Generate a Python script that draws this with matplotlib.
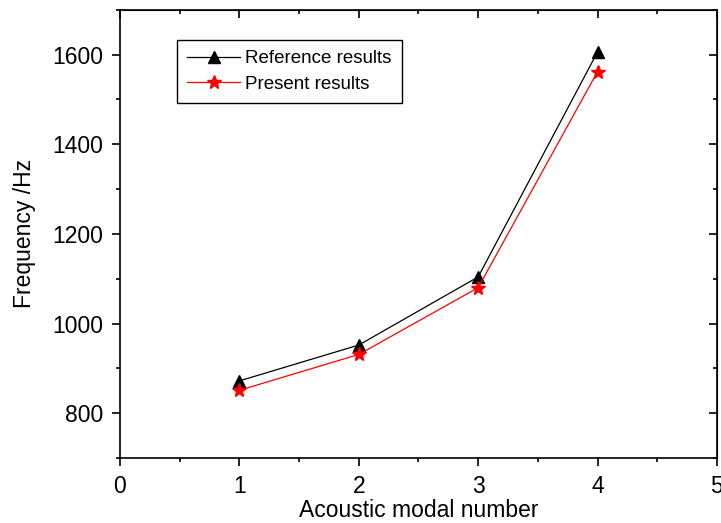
import matplotlib
matplotlib.use('Agg')
import matplotlib.pyplot as plt
from matplotlib.ticker import MultipleLocator

plt.rcParams['font.family'] = ['Liberation Sans', 'DejaVu Sans']

modes = [1, 2, 3, 4]
reference = [872, 952, 1104, 1606]
present = [851, 931, 1080, 1562]

fig = plt.figure(figsize=(7.21, 5.23), dpi=100)
ax = fig.add_axes([0.1664, 0.1243, 0.828, 0.857])

ax.plot(modes, reference, 'k-^', lw=0.9, ms=9, label='Reference results')
ax.plot(modes, present, 'r-*', lw=0.9, ms=10, label='Present results')

ax.set_xlim(0, 5)
ax.set_ylim(700, 1700)
ax.xaxis.set_major_locator(MultipleLocator(1))
ax.xaxis.set_minor_locator(MultipleLocator(0.5))
ax.yaxis.set_major_locator(MultipleLocator(200))
ax.yaxis.set_minor_locator(MultipleLocator(100))
ax.tick_params(which='both', direction='out', labelsize=16.5, width=1.2)
ax.tick_params(which='major', length=6, pad=6)
ax.tick_params(which='minor', length=3)
for s in ax.spines.values():
    s.set_linewidth(1.2)

# top/right ticks inward, unlabeled
axt = ax.secondary_xaxis('top')
axt.xaxis.set_major_locator(MultipleLocator(1))
axt.xaxis.set_minor_locator(MultipleLocator(0.5))
axt.tick_params(which='both', direction='in', labeltop=False, width=1.2)
axt.tick_params(which='major', length=6)
axt.tick_params(which='minor', length=3)
axr = ax.secondary_yaxis('right')
axr.yaxis.set_major_locator(MultipleLocator(200))
axr.yaxis.set_minor_locator(MultipleLocator(100))
axr.tick_params(which='both', direction='in', labelright=False, width=1.2)
axr.tick_params(which='major', length=6)
axr.tick_params(which='minor', length=3)

ax.set_xlabel('Acoustic modal number', fontsize=16.5, labelpad=1)
ax.set_ylabel('Frequency /Hz', fontsize=16.5, labelpad=12)

leg = ax.legend(loc='upper left', bbox_to_anchor=(0.086, 0.945), fontsize=13.5,
                fancybox=False, edgecolor='black', framealpha=1,
                handlelength=2.8, handletextpad=0.3, borderpad=0.55,
                labelspacing=0.45, borderaxespad=0.3)
leg.get_frame().set_linewidth(1.0)

fig.savefig('out.png', dpi=100)
